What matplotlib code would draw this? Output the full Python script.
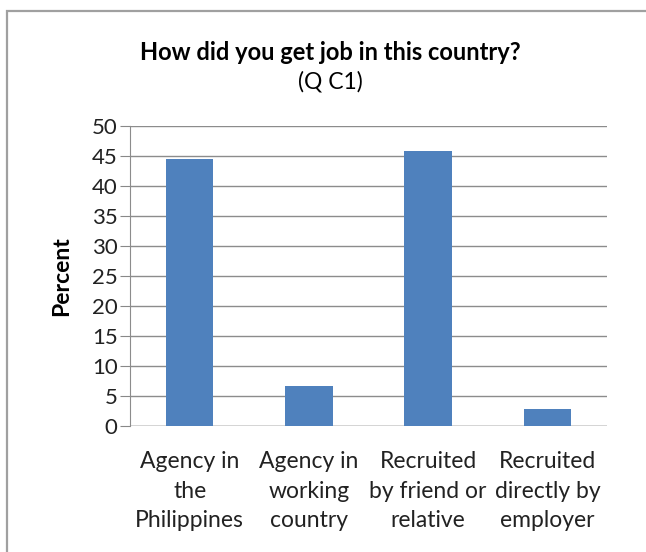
import matplotlib
matplotlib.use('Agg')
import matplotlib.pyplot as plt
from matplotlib.patches import Rectangle

categories = ['Agency in\nthe\nPhilippines', 'Agency in\nworking\ncountry',
              'Recruited\nby friend or\nrelative', 'Recruited\ndirectly by\nemployer']
percent = [44.5, 6.6, 45.8, 2.8]
y_ticks = [0, 5, 10, 15, 20, 25, 30, 35, 40, 45, 50]

plt.rcParams['font.family'] = ['Lato', 'DejaVu Sans']

W, H = 646, 552
fig = plt.figure(figsize=[W / 100, H / 100], dpi=100)
ax = fig.add_axes([130 / W, 126 / H, 477 / W, 300 / H])

x = range(len(categories))
ax.bar(x, percent, width=0.4, color='#4F81BD', zorder=3)
ax.set_xlim(-0.5, len(categories) - 0.5)
ax.set_ylim(0, 50)
ax.set_yticks(y_ticks)
ax.set_xticks(list(x))
ax.set_xticklabels(categories, fontsize=16.5, color='#222222', linespacing=1.5)
ax.tick_params(axis='y', labelsize=16, colors='#222222', length=7, color='#888888', pad=2)
ax.tick_params(axis='x', length=0, pad=18)
ax.yaxis.grid(True, color='#8c8c8c', linewidth=1, zorder=0)
for s in ['top', 'right', 'bottom']:
    ax.spines[s].set_visible(False)
ax.spines['left'].set_color('#8c8c8c')
ax.axhline(0, color='#8c8c8c', linewidth=1, zorder=2)

ax.set_ylabel('Percent', fontsize=16.5, fontweight='bold', labelpad=14)

fig.text(330 / W, 1 - 52 / H, 'How did you get job in this country?',
         ha='center', va='center', fontsize=17, fontweight='bold')
fig.text(330 / W, 1 - 82 / H, '(Q C1)',
         ha='center', va='center', fontsize=16.5)

# chart frame
fig.patches.append(Rectangle((7 / W, -0.1), 1.2, 1 - 11 / H + 0.1,
                             transform=fig.transFigure, fill=False,
                             edgecolor='#a0a0a0', linewidth=1.6))

fig.savefig('out.png', dpi=100)
